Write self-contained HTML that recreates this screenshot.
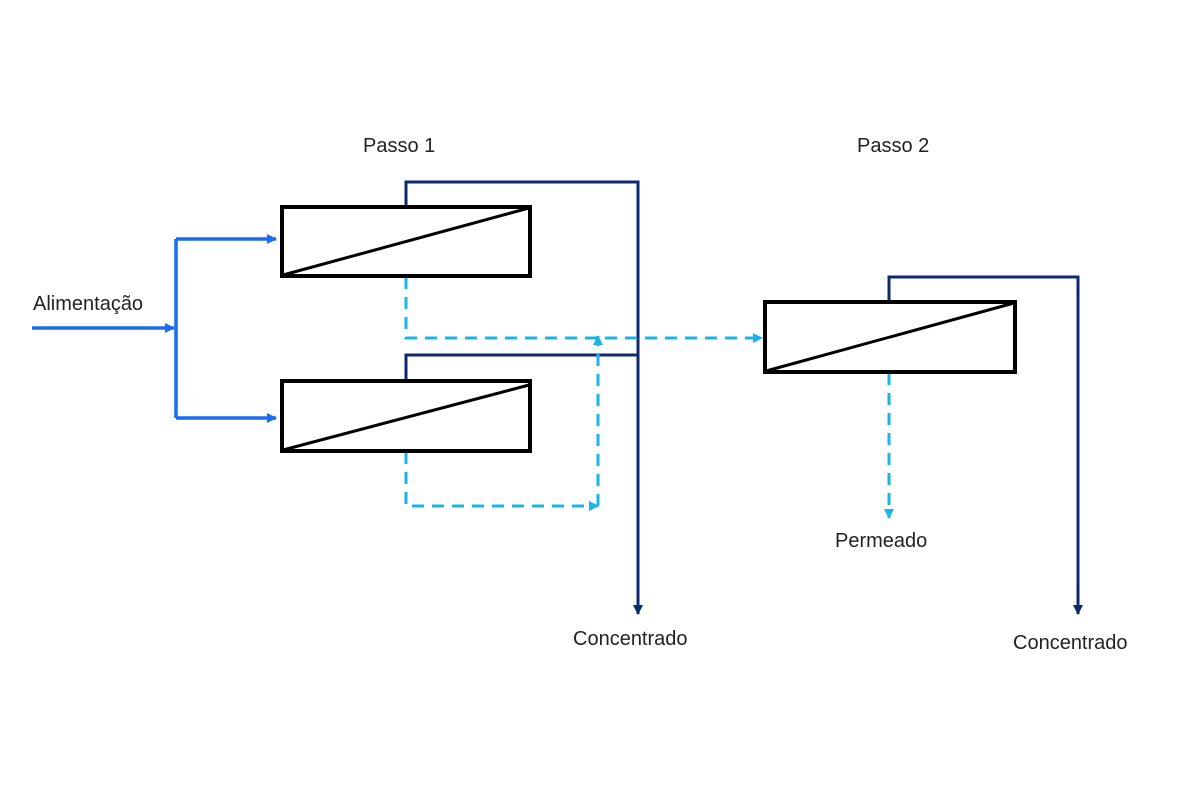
<!DOCTYPE html>
<html><head><meta charset="utf-8"><style>
html,body{margin:0;padding:0;background:#fff;}
svg{display:block;}
text{font-family:"Liberation Sans",Arial,sans-serif;font-size:20px;fill:#222;}
</style></head><body>
<svg width="1200" height="800" viewBox="0 0 1200 800" xmlns="http://www.w3.org/2000/svg">
<defs>
<marker id="ab" markerWidth="10" markerHeight="10" refX="9" refY="5" orient="auto" markerUnits="userSpaceOnUse"><path d="M0,0 L10,5 L0,10 z" fill="#1a6cf0"/></marker>
<marker id="ac" markerWidth="10" markerHeight="10" refX="9" refY="5" orient="auto" markerUnits="userSpaceOnUse"><path d="M0,0 L10,5 L0,10 z" fill="#1ab4ea"/></marker>
<marker id="an" markerWidth="10" markerHeight="10" refX="9" refY="5" orient="auto" markerUnits="userSpaceOnUse"><path d="M0,0 L10,5 L0,10 z" fill="#0d2a6e"/></marker>
</defs>
<text x="363" y="152">Passo 1</text>
<text x="857" y="152">Passo 2</text>
<text x="33" y="310">Alimentação</text>
<text x="835" y="547">Permeado</text>
<text x="573" y="645">Concentrado</text>
<text x="1013" y="649">Concentrado</text>
<!-- feed -->
<g stroke="#1a6cf0" stroke-width="3.5" fill="none">
<line x1="32" y1="328" x2="174" y2="328" marker-end="url(#ab)"/>
<line x1="176" y1="239" x2="176" y2="418"/>
<line x1="176" y1="239" x2="276" y2="239" marker-end="url(#ab)"/>
<line x1="176" y1="418" x2="276" y2="418" marker-end="url(#ab)"/>
</g>
<!-- concentrate -->
<g stroke="#0d2a6e" stroke-width="3" fill="none">
<polyline points="406,207 406,182 638,182 638,614" marker-end="url(#an)"/>
<polyline points="406,380 406,355 638,355"/>
<polyline points="889,301 889,277 1078,277 1078,614" marker-end="url(#an)"/>
</g>
<!-- permeate -->
<g stroke="#1ab4ea" stroke-width="3" fill="none" stroke-dasharray="12,8">
<polyline points="406,277 406,338 762,338" marker-end="url(#ac)"/>
<polyline points="406,452 406,506 598,506" marker-end="url(#ac)"/>
<polyline points="598,506 598,336" marker-end="url(#ac)"/>
<polyline points="889,373 889,518" marker-end="url(#ac)"/>
</g>
<!-- boxes -->
<g stroke="#000" stroke-width="4" fill="none">
<rect x="282" y="207" width="248" height="69"/>
<line x1="283" y1="275" x2="529" y2="208" stroke-width="3"/>
<rect x="282" y="381" width="248" height="70"/>
<line x1="283" y1="450" x2="529" y2="385" stroke-width="3"/>
<rect x="765" y="302" width="250" height="70"/>
<line x1="766" y1="371" x2="1014" y2="303" stroke-width="3"/>
</g>
</svg>
</body></html>
